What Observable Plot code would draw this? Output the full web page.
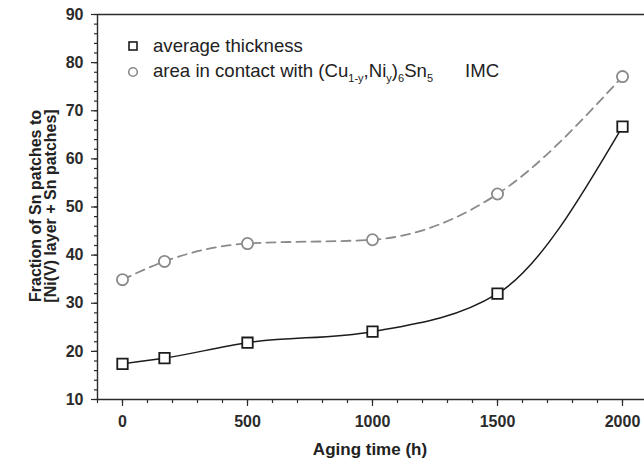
<!DOCTYPE html>
<html><head><meta charset="utf-8">
<script src="https://cdn.jsdelivr.net/npm/d3@7"></script>
<script src="https://cdn.jsdelivr.net/npm/@observablehq/plot@0.6"></script>
<style>body{margin:0;background:#fff}</style>
</head><body><div id="chart"></div>
<script>
// Data
const agingTime = [0, 168, 500, 1000, 1500, 2000];
const avgThickness = [17.4, 18.6, 21.8, 24.1, 32.0, 66.7];
const contactArea = [34.9, 38.7, 42.4, 43.2, 52.7, 77.1];

// Tick values
const xMajorTicks = [0, 500, 1000, 1500, 2000];
const xMinorTicks = d3.range(-100, 2001, 100);
const yMajorTicks = [10, 20, 30, 40, 50, 60, 70, 80, 90];
const yMinorTicks = d3.range(10, 91, 2);

const thickData = agingTime.map((t, i) => ({t, v: avgThickness[i]}));
const areaData = agingTime.map((t, i) => ({t, v: contactArea[i]}));

const axisColor = "#2b2b2b";
const darkSeries = "#1c1c1c";
const graySeries = "#8a8a8a";

const chart = Plot.plot({
  width: 644, height: 463,
  marginLeft: 97, marginRight: 0, marginTop: 14, marginBottom: 64,
  style: {fontFamily: "'Liberation Sans', Arial, sans-serif", background: "#fff", color: axisColor},
  x: {domain: [-100, 2088]},
  y: {domain: [10, 90]},
  marks: [
    Plot.axisY(yMinorTicks, {tickSize: 3, tickFormat: () => "", label: null, strokeWidth: 1.2}),
    Plot.axisY(yMajorTicks, {tickSize: 6, tickPadding: 8, tickFormat: d => String(d), label: null, fontSize: 16, fontWeight: "bold", strokeWidth: 1.2}),
    Plot.axisX(xMinorTicks, {tickSize: 4, tickFormat: () => "", label: null, strokeWidth: 1.2}),
    Plot.axisX(xMajorTicks, {tickSize: 7, tickPadding: 9, tickFormat: d => String(d), label: null, fontSize: 16, fontWeight: "bold", strokeWidth: 1.2}),
    Plot.ruleX([-100], {stroke: axisColor, strokeWidth: 1.4}),
    Plot.ruleY([10], {stroke: axisColor, strokeWidth: 1.4}),
    Plot.ruleY([90], {stroke: axisColor, strokeWidth: 1.4}),
    Plot.line(areaData, {x: "t", y: "v", curve: "monotone-x", stroke: graySeries, strokeWidth: 1.8, strokeDasharray: "9,6"}),
    Plot.line(thickData, {x: "t", y: "v", curve: "monotone-x", stroke: darkSeries, strokeWidth: 1.5}),
    Plot.dot(areaData, {x: "t", y: "v", symbol: "circle", r: 5.6, stroke: graySeries, strokeWidth: 1.8, fill: "white"}),
    Plot.dot(thickData, {x: "t", y: "v", symbol: "square", r: 5.9, stroke: darkSeries, strokeWidth: 1.8, fill: "white"})
  ]
});
document.getElementById("chart").appendChild(chart);

const svg = d3.select(chart);
const font = "'Liberation Sans', Arial, sans-serif";

// Axis titles
svg.append("text").attr("x", 370).attr("y", 455).attr("text-anchor", "middle")
  .attr("font-family", font).attr("font-size", 17).attr("font-weight", "bold").attr("fill", "#222")
  .text("Aging time (h)");
const yTitle = [["Fraction of Sn patches to", 41], ["[Ni(V) layer + Sn patches]", 56]];
yTitle.forEach(([s, bx]) => {
  svg.append("text").attr("transform", `translate(${bx},206) rotate(-90)`).attr("text-anchor", "middle")
    .attr("font-family", font).attr("font-size", 16).attr("font-weight", "bold").attr("fill", "#222")
    .text(s);
});

// Legend
const lg = svg.append("g").attr("font-family", font).attr("font-size", 18.6).attr("fill", "#222").attr("text-anchor", "start");
lg.append("rect").attr("x", 129).attr("y", 42).attr("width", 8).attr("height", 8)
  .attr("fill", "none").attr("stroke", darkSeries).attr("stroke-width", 1.6);
lg.append("circle").attr("cx", 133).attr("cy", 72).attr("r", 4.3)
  .attr("fill", "none").attr("stroke", graySeries).attr("stroke-width", 1.6);
lg.append("text").attr("x", 153).attr("y", 52).text("average thickness");
const t2 = lg.append("text").attr("x", 153).attr("y", 77);
t2.append("tspan").text("area in contact with (Cu");
t2.append("tspan").attr("font-size", 11).attr("dy", 5).text("1-y");
t2.append("tspan").attr("dy", -5).text(",Ni");
t2.append("tspan").attr("font-size", 11).attr("dy", 5).text("y");
t2.append("tspan").attr("dy", -5).text(")");
t2.append("tspan").attr("font-size", 11).attr("dy", 5).text("6");
t2.append("tspan").attr("dy", -5).text("Sn");
t2.append("tspan").attr("font-size", 11).attr("dy", 5).text("5");
lg.append("text").attr("x", 465).attr("y", 77).text("IMC");
</script>
</body></html>
